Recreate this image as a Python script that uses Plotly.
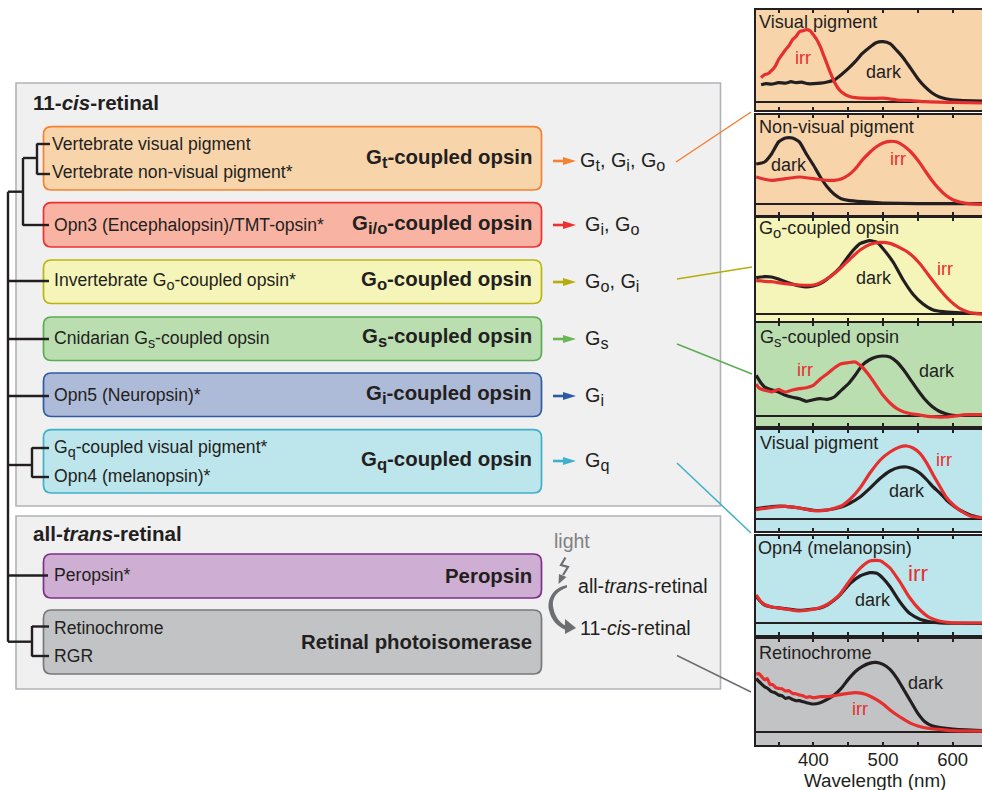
import re
import plotly.graph_objects as go

# ---------- data (height above each panel's baseline) ----------
p1_dark_nm = [325,332,340,350,360,368,375,383,392,400,410,420,430,440,450,460,470,480,490,500,510,520,530,540,550,560,570,580,590,610,642]
p1_dark = [17,18,17.5,19,18.5,20,19,19.5,18,18,18.5,19.7,21.7,27,33,40,48,54,59,60,58,51,43,33,23,15,9,5,3,1.3,0.7]
p1_irr_nm = [325,330,335,340,345,350,355,360,365,370,375,380,385,390,395,400,405,410,415,420,425,430,435,440,450,460,480,500,520,540,560,600,642]
p1_irr = [24,27,28,31,35,42,47,52,56,62,65,70,71,72,71,67,62,55,46,37,28,20,14,10,5.7,4,3.3,3.5,1.7,1.2,0,-0.7,-1.3]

p2_dark_nm = [318,330,340,350,360,370,380,390,400,410,420,430,440,450,470,500,550,600,642]
p2_dark = [40,42,50,62,66,66,62,50,39,27,17,9.7,5.3,3.7,2.3,1,0.3,0.3,0.3]
p2_irr_nm = [318,330,340,360,380,400,420,430,440,450,460,470,480,490,500,510,520,530,540,550,560,570,580,590,600,610,620,642]
p2_irr = [27,24.7,23.7,25.3,27,25.3,23.7,23.7,25,28.7,35,43.7,51,57,61,62.7,62,58,52,43.7,33.7,23.7,15.3,8.7,4.3,2,0.7,-0.3]

p3_dark_nm = [318,330,340,350,360,380,390,400,410,424,438,453,467,481,491,500,515,529,543,557,572,586,606,642]
p3_dark = [36,37,36.7,34.7,32,27.7,26.7,27.7,30,37,46,60,70,73,71.5,65,51,33.7,19.5,10,3.7,2,1,0]
p3_irr_nm = [318,340,360,380,400,410,424,438,453,467,481,496,510,524,538,553,567,582,596,610,625,642]
p3_irr = [33,32,30,28.7,28.7,31,37,45,55,63.7,69.3,71.3,70.3,66,60.3,50,37,23.7,13,5.3,1,-0.3]

p4_dark_nm = [318,325,330,340,350,360,370,380,390,400,410,420,430,440,450,460,470,480,490,500,510,520,530,540,550,560,570,580,590,600,642]
p4_dark = [40.7,33,29,26.3,24,20.7,18.7,17.3,14.7,16.3,17.3,16.7,19,25.7,32,40.7,50.7,56,59,60,59,54,45.7,35.7,25.7,16.7,9.7,5,2.3,0.7,0.7]
p4_irr_nm = [318,322,330,335,340,350,355,360,370,380,390,400,410,420,430,440,450,460,470,480,490,500,510,520,530,540,550,570,590,600,620,642]
p4_irr = [32,28,25.7,25,24,26.7,25,24,26,27.3,28.3,30.7,37,42.3,48,52.3,53.3,54,49,40.7,30.7,20.7,13,7.3,4,2.3,1.3,-0.7,-1,-0.3,1.3,1.3]

p5_dark_nm = [318,340,360,380,400,420,440,453,467,481,496,510,524,534,543,553,563,572,582,591,601,610,625,642]
p5_dark = [10.3,12.5,12.7,11,8.7,9,12,16,22,30.7,40.7,48,51.7,52,50,45.7,39,32,25.7,19,13.3,9,4,0.7]
p5_irr_nm = [318,340,360,380,400,420,440,453,467,481,496,510,524,534,543,553,563,572,582,591,601,610,625,642]
p5_irr = [9.3,11.7,12.7,11,8.3,9,13,20,31,45.7,59,67,72,73,71,65.7,55.7,44,32,21.5,14,9,3,1.3]

p6_dark_nm = [318,325,330,340,360,380,400,410,420,430,438,453,467,481,491,500,510,524,538,553,567,582,642]
p6_dark = [26.3,21,18,16,14.3,12.7,14,15,18,23,28,39.7,47,50.3,49.7,44.7,36.3,21.3,9.7,3.7,1.3,0,-0.3]
p6_irr_nm = [318,325,330,340,360,380,400,410,420,430,438,453,467,481,496,510,524,538,553,567,582,596,642]
p6_irr = [28,21,18.5,16,14,12,13.7,15.5,18.5,23.5,28.5,43,54.7,62,62.3,55,41.3,25.5,13,5.3,1.7,0.3,0]

p7_dark_nm = [318,325,330,335,340,345,350,355,360,365,370,375,380,385,390,400,410,420,430,440,450,460,470,480,490,500,510,520,530,540,550,560,570,580,600,642]
p7_dark = [53,48,45,43,40,39,36.7,36,33.3,34,32.3,31,31,30,29,27.7,29,32.3,36.7,43.3,52.3,60,65,68.3,69.3,67.3,62.3,53.3,41.7,30,18.3,10,6,4.3,2.7,1]
p7_irr_nm = [318,322,326,330,334,338,342,346,350,355,360,365,370,375,380,385,390,395,400,410,420,430,440,450,460,470,480,490,500,510,520,530,540,550,560,580,600,642]
p7_irr = [57.7,58,55,52,53,47,47,44,43.3,43,40.7,41,38.3,38,36.7,36,34.3,35,34,35,35,36,37.3,38.3,39,38.3,36,32.3,27.7,21.7,16.7,12.3,8.3,5.7,4,2.3,1,0.6]

panel_titles = ["Visual pigment", "Non-visual pigment", "G<sub>o</sub>-coupled opsin", "G<sub>s</sub>-coupled opsin",
                "Visual pigment", "Opn4 (melanopsin)", "Retinochrome"]
wavelength_ticks = [350, 400, 450, 500, 550, 600]
wavelength_labels = ["", "400", "", "500", "", "600"]
curves = [(p1_dark_nm, p1_dark, p1_irr_nm, p1_irr), (p2_dark_nm, p2_dark, p2_irr_nm, p2_irr),
          (p3_dark_nm, p3_dark, p3_irr_nm, p3_irr), (p4_dark_nm, p4_dark, p4_irr_nm, p4_irr),
          (p5_dark_nm, p5_dark, p5_irr_nm, p5_irr), (p6_dark_nm, p6_dark, p6_irr_nm, p6_irr),
          (p7_dark_nm, p7_dark, p7_irr_nm, p7_irr)]

# ---------- layout constants ----------
W, H = 982, 790
INK = "#231f20"
RED = "#e5302f"
FONT = "Liberation Sans"
ORANGE_BG, YEL_BG, GRN_BG, CYAN_BG, GRAY_BG = "#f8d4ab", "#f5f4b9", "#bbdeb1", "#bde5ec", "#c2c3c5"

shapes, annos = [], []


def rect(x0, y0, x1, y1, fill, line=None, lw=1.5):
    shapes.append(dict(type="rect", xref="x", yref="y", x0=x0, y0=y0, x1=x1, y1=y1, fillcolor=fill,
                       line=dict(color=line or fill, width=lw if line else 0), layer="below"))


def rrect(x0, y0, x1, y1, fill, line, r=8):
    p = (f"M {x0+r},{y0} L {x1-r},{y0} Q {x1},{y0} {x1},{y0+r} L {x1},{y1-r} Q {x1},{y1} {x1-r},{y1} "
         f"L {x0+r},{y1} Q {x0},{y1} {x0},{y1-r} L {x0},{y0+r} Q {x0},{y0} {x0+r},{y0} Z")
    shapes.append(dict(type="path", xref="x", yref="y", path=p, fillcolor=fill, line=dict(color=line, width=1.7), layer="below"))


def seg(x0, y0, x1, y1, color=INK, w=2.4, layer="above"):
    shapes.append(dict(type="line", xref="x", yref="y", x0=x0, y0=y0, x1=x1, y1=y1,
                       line=dict(color=color, width=w), layer=layer))


def filled(path, color):
    shapes.append(dict(type="path", xref="x", yref="y", path=path, fillcolor=color, line=dict(width=0), layer="above"))


def text(x, y, s, size=17.6, color=INK, anchor="left"):
    sub_px = round(size * 0.82, 1)
    s = re.sub(r"<sub>(.*?)</sub>", rf'<sub><span style="font-size:{sub_px}px">\1</span></sub>', s)
    annos.append(dict(xref="x", yref="y", x=x, y=y, text=s, showarrow=False, xanchor=anchor, yanchor="middle",
                      font=dict(family=FONT, size=size, color=color), borderpad=0, borderwidth=0))


# outer grey group boxes
rect(16, 83, 720.5, 506, "#f0f0f0", "#b1b3b6", 1.6)
rect(16, 516, 720.5, 689, "#f0f0f0", "#b1b3b6", 1.6)
text(33, 102, "<b>11-<i>cis</i>-retinal</b>", 20.6)
text(33, 533.5, "<b>all-<i>trans</i>-retinal</b>", 20.6)

# coloured opsin boxes
boxes = [
    (126.7, 190, ORANGE_BG, "#f58233", "G<sub>t</sub>-coupled opsin", 159),
    (202.7, 247, "#f9b3a3", "#ee3130", "G<sub>i/o</sub>-coupled opsin", 225),
    (260, 303.5, YEL_BG, "#bbb412", "G<sub>o</sub>-coupled opsin", 281),
    (317, 360.5, GRN_BG, "#5aac50", "G<sub>s</sub>-coupled opsin", 338),
    (373, 416.5, "#aebbd8", "#2c5ba4", "G<sub>i</sub>-coupled opsin", 395),
    (429.7, 493, CYAN_BG, "#3fb0c9", "G<sub>q</sub>-coupled opsin", 461),
    (554, 598, "#ceaed2", "#7e2e8e", "Peropsin", 576),
    (610, 674, GRAY_BG, "#77787b", "Retinal photoisomerase", 642),
]
for y0, y1, fill, line, label, ly in boxes:
    rrect(43.5, y0, 541.5, y1, fill, line)
    text(532, ly, f"<b>{label}</b>", 20.4, anchor="right")

# left-hand labels
for x, y, s in [
    (52, 144, "Vertebrate visual pigment"), (52, 172, "Vertebrate non-visual pigment*"),
    (54, 225, "Opn3 (Encephalopsin)/TMT-opsin*"), (54, 281, "Invertebrate G<sub>o</sub>-coupled opsin*"),
    (54, 339, "Cnidarian G<sub>s</sub>-coupled opsin"), (54, 395, "Opn5 (Neuropsin)*"),
    (54, 448, "G<sub>q</sub>-coupled visual pigment*"), (54, 476, "Opn4 (melanopsin)*"),
    (54, 575, "Peropsin*"), (54, 628, "Retinochrome"), (54, 656, "RGR"),
]:
    text(x, y, s, 17.6)

# phylogenetic tree
for a in [
    (8, 191.7, 8, 641.7), (8, 191.7, 23, 191.7), (23, 158, 23, 225.5), (23, 158, 37, 158), (23, 225, 49, 225),
    (37, 143.5, 37, 174.5), (37, 144, 50, 144), (37, 174, 50, 174),
    (8, 281, 49, 281), (8, 339, 49, 339), (8, 396, 49, 396),
    (8, 465, 32, 465), (32, 447.5, 32, 477.5), (32, 448, 49, 448), (32, 477, 49, 477),
    (8, 575.5, 48, 575.5), (8, 641.7, 32, 641.7), (32, 626, 32, 656.5), (32, 626.5, 49, 626.5), (32, 656, 49, 656),
]:
    seg(*a)

# G-protein arrows and labels
for y, color, label, lx in [
    (161, "#f58233", "G<sub>t</sub>, G<sub>i</sub>, G<sub>o</sub>", 580),
    (225, "#ee3130", "G<sub>i</sub>, G<sub>o</sub>", 585),
    (282, "#b5ad0b", "G<sub>o</sub>, G<sub>i</sub>", 585),
    (339, "#6bb552", "G<sub>s</sub>", 585),
    (396, "#2c5ba4", "G<sub>i</sub>", 585),
    (461, "#3fb0c9", "G<sub>q</sub>", 585),
]:
    seg(553, y, 566, y, color, 2.6)
    filled(f"M 563,{y-4} L 576,{y} L 563,{y+4} Z", color)
    text(lx, y, label, 19.8)

# leader lines to the spectra
for a, color in [((676, 162, 751, 112), "#f58233"), ((677, 279, 752, 267), "#b5ad0b"), ((677, 344, 752, 374), "#5aac50"),
                 ((677, 463, 751, 533), "#3fb0c9"), ((677, 655.5, 751, 692), "#6d6e71")]:
    seg(*a, color, 1.5)

# light reaction
GREY = "#6d6e71"
text(554, 541, "light", 19.5, "#808285")
shapes.append(dict(type="path", xref="x", yref="y", path="M 565.5,557.5 L 561,565 L 568,567 L 563,575",
                   line=dict(color=GREY, width=2.2), layer="above"))
filled("M 559,574 L 566.5,577 L 558.5,584 Z", GREY)
filled("M 567,585 C 552,588 547,600 549,610 C 551,620 558,627 566,630 L 566,626 C 558,622 554,614 553,606 C 552,598 557,591 567,587.5 Z", GREY)
filled("M 565,619 L 576,628 L 565,634 Z", GREY)
text(578, 586, "all-<i>trans</i>-retinal", 19.6)
text(580, 628, "11-<i>cis</i>-retinal", 19.6)

# spectra panels: top, bottom, baseline in page pixels
panels = [(10, 110, 101.7, ORANGE_BG), (115, 215, 204, ORANGE_BG), (218, 321, 313.7, YEL_BG), (323, 426, 416, GRN_BG),
          (430, 531, 519, CYAN_BG), (535.7, 635, 623, CYAN_BG), (639, 745, 731.7, GRAY_BG)]
LEFT = 755.5
fig = go.Figure()
fig.add_trace(go.Scatter(x=[None], y=[None], xaxis="x", yaxis="y", hoverinfo="skip", showlegend=False))

title_pos = [(759, 22), (759, 127), (759, 229), (760, 338), (760, 443), (758, 548), (759, 653)]
layout_axes = {}
for i, ((top, bot, base, bg), (dx, dy, ix, iy)) in enumerate(zip(panels, curves)):
    n = i + 2
    rect(LEFT, top, W, bot, bg)
    fig.add_trace(go.Scatter(x=dx, y=dy, mode="lines", line=dict(color=INK, width=3.2, shape="spline", smoothing=0.5),
                             xaxis=f"x{n}", yaxis=f"y{n}", name="dark", showlegend=False))
    fig.add_trace(go.Scatter(x=ix, y=iy, mode="lines", line=dict(color=RED, width=3.2, shape="spline", smoothing=0.5),
                             xaxis=f"x{n}", yaxis=f"y{n}", name="irr", showlegend=False))
    layout_axes[f"xaxis{n}"] = dict(domain=[LEFT / W, 1], range=[317, 642], anchor=f"y{n}", showgrid=False, zeroline=False,
                                    showline=True, linecolor=INK, linewidth=1.8, mirror="allticks", ticks="inside", ticklen=3.5,
                                    tickwidth=1.5, tickcolor=INK, tickvals=wavelength_ticks, ticktext=wavelength_labels,
                                    showticklabels=(i == 6), ticklabelstandoff=-3,
                                    tickfont=dict(family=FONT, size=18.5, color=INK))
    layout_axes[f"yaxis{n}"] = dict(domain=[1 - bot / H, 1 - top / H], range=[base - bot, base - top], anchor=f"x{n}",
                                    showgrid=False, showticklabels=False, ticks="", showline=True, linecolor=INK, linewidth=1.8,
                                    zeroline=True, zerolinecolor=INK, zerolinewidth=1.5)
    text(title_pos[i][0], title_pos[i][1], panel_titles[i], 18.1)

for x, y, s, size, color in [
    (803, 58, "irr", 18, RED), (884, 72, "dark", 18, INK), (789, 165, "dark", 18, INK), (898, 159, "irr", 18, RED),
    (874, 278, "dark", 18, INK), (945, 269, "irr", 18, RED), (805, 370, "irr", 18, RED), (937, 371, "dark", 18, INK),
    (944, 460, "irr", 18, RED), (907, 491, "dark", 18, INK), (918, 573, "irr", 22.5, RED), (873, 600, "dark", 18, INK),
    (926, 683, "dark", 18, INK), (860, 709, "irr", 18, RED),
]:
    text(x, y, s, size, color, "center")
text(875, 780, "Wavelength (nm)", 18.8, INK, "center")

fig.update_layout(
    width=W, height=H, autosize=False, margin=dict(l=0, r=0, t=0, b=0), showlegend=False,
    paper_bgcolor="white", plot_bgcolor="rgba(0,0,0,0)",
    xaxis=dict(domain=[0, 1], range=[0, W], visible=False, fixedrange=True),
    yaxis=dict(domain=[0, 1], range=[H, 0], visible=False, fixedrange=True),
    shapes=shapes, annotations=annos, font=dict(family=FONT, color=INK), **layout_axes,
)
fig.write_html("out.html", config={"displayModeBar": False},
               post_script="document.body.style.margin='0';document.documentElement.style.overflow='hidden';")
